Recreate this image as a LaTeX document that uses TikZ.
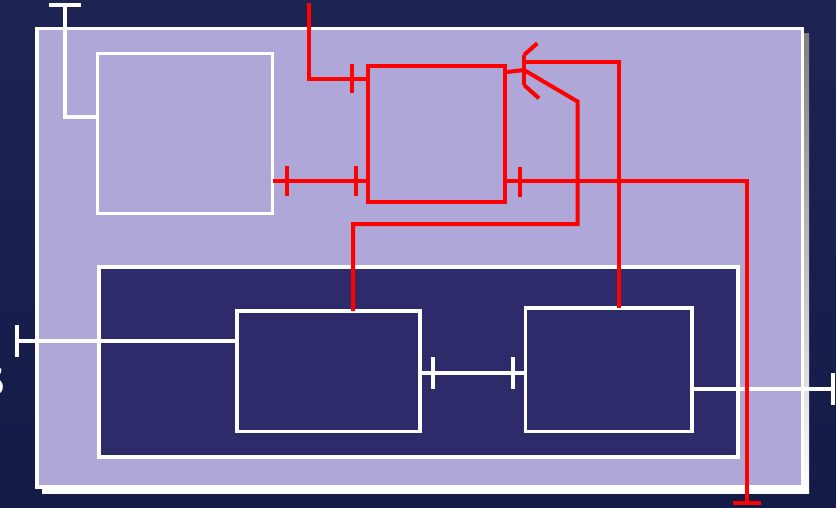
\documentclass[tikz,border=0pt]{standalone}
\usetikzlibrary{calc}
\definecolor{navytop}{HTML}{1D2452}
\definecolor{navybot}{HTML}{151B47}
\definecolor{lav}{HTML}{AFA7D7}
\definecolor{deep}{HTML}{2D2B6A}
\definecolor{shade}{HTML}{E8E8E8}
\definecolor{redline}{HTML}{FF0000}
\tikzset{
  px/.style={x=1pt,y=-1pt},
  wbox/.style={draw=white,line width=3.8pt,rectangle,outer sep=0pt,inner sep=0pt},
  rbox/.style={draw=redline,line width=4pt,rectangle,outer sep=0pt,inner sep=0pt},
  wline/.style={draw=white,line width=3.8pt},
  rline/.style={draw=redline,line width=4pt},
}
\begin{document}
\begin{tikzpicture}[px]
\useasboundingbox (0,0) rectangle (836,507);
\shade[top color=navytop,bottom color=navybot] (0,0) rectangle (836,507);
% cut-off letter at left edge
\node[text=white,font=\sffamily\bfseries\fontsize{38}{40}\selectfont,inner sep=0pt] (lett) at (-5.5,381.5) {S};
% shadow and outer panel
\fill[shade] (42,33.5) rectangle (809,493);
\node[wbox,fill=lav,minimum width=765.5pt,minimum height=458.5pt] (outer) at (419.75,257.75) {};
% top-left white box
\node[wbox,minimum width=175pt,minimum height=160pt] (tl) at (185,133.5) {};
% inner dark panel
\node[wbox,fill=deep,minimum width=639.3pt,minimum height=190pt] (inner) at (418.35,362) {};
% lower boxes
\node[wbox,minimum width=183pt,minimum height=120.5pt] (lb) at (328.5,371.25) {};
\node[wbox,minimum width=166.5pt,minimum height=123.5pt] (rb2) at (608.75,369.75) {};
% red box
\node[rbox,minimum width=136.7pt,minimum height=135.7pt] (rb) at (436.65,133.85) {};

% coordinates
\coordinate (topw) at (65,5);
\coordinate (topr) at (309.3,3);
\coordinate (botr) at (747,503);
\coordinate (leftw) at (17,341);
\coordinate (rightw) at (833,389.3);
\coordinate (fork) at (524,70);
\coordinate (forkt) at (524,55);
\coordinate (forkb) at (524,85);

% white connectors
\draw[wline] (tl.west |- 0,117) -- (topw |- 0,117) -- (topw);
\draw[wline] ($(topw)+(-16,0)$) -- ($(topw)+(16,0)$);
\draw[wline] (lb.west |- leftw) -- (leftw);
\draw[wline] ($(leftw)+(0,-16)$) -- ($(leftw)+(0,16)$);
\draw[wline] (lb.east |- 0,373.3) -- (rb2.west |- 0,373.3);
\draw[wline] (433,357) -- (433,389);
\draw[wline] (513,357) -- (513,389);
\draw[wline] (rb2.east |- rightw) -- (rightw);
\draw[wline] ($(rightw)+(0,-16)$) -- ($(rightw)+(0,16)$);

% red connectors
\draw[rline] (topr) -- (topr |- 0,78.7) -- (rb.west |- 0,78.7);
\draw[rline] (352,64) -- (352,93);
\draw[rline] (tl.east |- 0,181) -- (rb.west |- 0,181);
\draw[rline] (287,166) -- (287,196);
\draw[rline] (356,166) -- (356,196);
\draw[rline] (rb.east |- 0,181) -- (botr |- 0,181) -- (botr);
\draw[rline] (520,167) -- (520,197);
\draw[rline] ($(botr)+(-14,0)$) -- ($(botr)+(14,0)$);
% fork symbol
\draw[rline] (507,72) -- (fork);
\draw[rline] (forkt) -- (forkb);
\draw[rline] (forkt) -- (537.3,43.3);
\draw[rline] (forkb) -- (539,98.3);
\draw[rline] (524,61.5) -- (618.7,61.5) -- (rb2.north -| 618.7,0);
\draw[rline] (fork) -- (577.5,101.5) -- (577.5,224) -- (353,224) -- (lb.north -| 353,0);
\end{tikzpicture}
\end{document}
